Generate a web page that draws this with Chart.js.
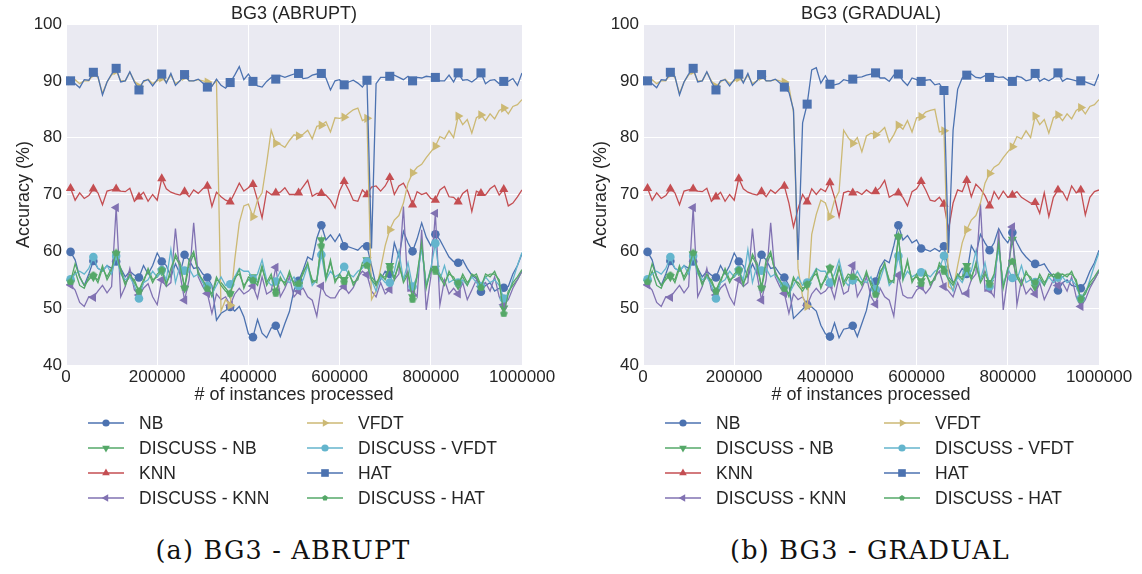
<!DOCTYPE html>
<html><head><meta charset="utf-8">
<script src="https://cdn.jsdelivr.net/npm/chart.js@4/dist/chart.umd.min.js"></script>
<style>
html,body{margin:0;padding:0;background:#fff;}
body{width:1142px;height:574px;position:relative;overflow:hidden;}
.box{position:absolute;top:0;width:565px;height:520px;}
.cap{position:absolute;top:535px;font-family:"DejaVu Serif",serif;font-size:25.5px;letter-spacing:1.2px;color:#111;white-space:nowrap;transform:translateX(-50%);}
</style></head><body>
<div class="box" style="left:0"><canvas id="c1" width="565" height="520"></canvas></div>
<div class="box" style="left:577px"><canvas id="c2" width="565" height="520"></canvas></div>
<div class="cap" style="left:283px">(a) BG3 - ABRUPT</div>
<div class="cap" style="left:870px">(b) BG3 - GRADUAL</div>
<script>
const instances = [10000,20000,30000,40000,50000,60000,70000,80000,90000,100000,
110000,120000,130000,140000,150000,160000,170000,180000,190000,200000,
210000,220000,230000,240000,250000,260000,270000,280000,290000,300000,
310000,320000,330000,340000,350000,360000,370000,380000,390000,400000,
410000,420000,430000,440000,450000,460000,470000,480000,490000,500000,
510000,520000,530000,540000,550000,560000,570000,580000,590000,600000,
610000,620000,630000,640000,650000,660000,670000,680000,690000,700000,
710000,720000,730000,740000,750000,760000,770000,780000,790000,800000,
810000,820000,830000,840000,850000,860000,870000,880000,890000,900000,
910000,920000,930000,940000,950000,960000,970000,980000,990000,1000000];
const xTicks = [0,200000,400000,600000,800000,1000000];
const yTicks = [40,50,60,70,80,90,100];
const seriesNames = ['NB','DISCUSS - NB','KNN','DISCUSS - KNN','VFDT','DISCUSS - VFDT','HAT','DISCUSS - HAT'];
const chartTitles = ['BG3 (ABRUPT)','BG3 (GRADUAL)'];

// ---------- ABRUPT ----------
const NB_A = [59.9,58.5,55.5,54.0,56.0,58.3,57.0,56.5,57.5,57.0,
58.2,57.0,55.5,56.5,55.8,55.4,57.5,56.0,57.5,59.7,
58.2,57.5,55.5,57.8,56.0,59.4,58.5,57.0,57.2,56.0,
55.4,54.0,47.9,49.1,49.6,50.2,49.5,50.3,48.5,45.5,
44.9,48.0,45.6,44.8,46.5,46.9,45.0,47.3,49.4,53.2,
54.8,56.7,59.0,58.5,62.3,64.6,62.0,62.9,61.7,63.0,
60.9,60.8,60.5,60.2,61.0,60.9,57.5,54.0,55.0,56.5,
56.0,61.5,59.0,63.5,61.5,60.0,62.2,65.0,62.5,61.0,
63.0,62.0,60.5,59.0,58.2,58.0,58.5,57.0,55.8,55.2,
52.9,54.0,54.5,53.0,53.5,53.6,53.8,56.0,57.5,59.6];
const DNB_A = [54.5,56.5,54.0,53.5,55.5,55.5,55.0,57.5,55.0,56.5,
59.5,57.0,54.5,55.5,55.0,52.8,54.5,57.0,55.0,55.5,
56.5,54.5,56.0,59.5,58.0,53.5,57.5,59.5,56.5,54.5,
53.8,52.0,55.0,54.5,53.5,52.5,55.5,56.0,54.0,55.0,
55.5,54.5,57.5,54.0,55.5,53.0,55.0,54.5,56.0,54.5,
54.0,56.5,57.5,55.0,54.5,62.0,55.5,58.0,55.0,55.5,
55.0,56.0,54.5,55.0,58.0,58.5,55.5,54.5,55.5,55.5,
57.5,55.5,57.5,55.0,56.5,52.0,55.5,61.0,54.0,56.5,
57.0,56.0,54.5,56.0,55.5,54.0,56.0,54.5,55.5,56.0,
54.0,55.5,56.0,56.0,55.0,50.0,53.0,54.0,55.0,56.5];
const KNN_A = [71.1,69.0,70.3,69.3,69.8,71.0,70.3,68.2,70.6,70.8,
71.0,70.6,70.5,71.1,68.8,69.6,70.4,68.8,70.0,69.0,
72.8,71.0,70.4,70.1,69.9,70.5,69.6,70.8,70.2,71.0,
71.5,67.9,70.4,69.6,69.0,68.7,70.3,72.0,70.6,71.2,
71.8,69.0,65.9,70.6,70.0,70.3,70.4,71.2,70.0,70.0,
70.3,71.4,72.5,69.7,70.2,70.2,69.9,69.0,67.6,70.6,
72.3,70.8,69.0,68.8,70.8,70.0,71.3,71.5,70.6,71.5,
73.0,70.0,71.5,72.0,70.5,68.2,70.5,70.0,70.3,69.3,
69.0,70.8,71.4,69.6,69.5,68.7,70.2,70.8,67.0,70.6,
70.2,69.9,71.0,71.6,69.9,70.9,68.0,68.5,69.6,70.8];
const DKNN_A = [54.1,53.2,51.0,50.3,52.0,51.9,53.0,54.0,52.7,53.8,
67.7,52.0,53.8,57.0,53.2,52.3,53.5,54.3,52.0,50.6,
55.0,53.8,54.5,64.0,56.0,51.4,55.0,65.0,55.5,53.8,
52.6,49.1,52.5,51.5,52.0,50.5,52.5,53.5,52.5,53.0,
53.9,51.7,55.5,52.5,53.0,57.2,52.0,53.5,55.5,52.0,
53.0,53.5,52.0,51.4,48.6,53.9,52.3,51.8,51.8,53.2,
53.8,52.6,53.6,55.5,56.5,55.9,53.0,52.0,54.5,52.5,
53.3,55.0,56.0,67.9,53.0,53.2,52.0,63.8,49.7,55.5,
66.7,50.6,55.0,52.5,53.5,52.5,54.5,51.5,53.2,55.0,
53.8,54.5,53.0,55.5,52.0,50.6,51.5,53.5,55.0,56.5];
const VFDT_A = [90.0,90.2,89.5,90.0,90.0,91.2,90.6,87.8,89.8,91.0,
91.8,90.0,90.0,91.5,90.0,89.0,89.8,90.3,89.5,90.0,
90.5,89.8,91.0,89.5,90.0,90.8,90.0,90.0,90.2,90.0,
89.8,89.2,90.0,49.5,51.5,50.5,58.5,65.0,68.0,68.3,
66.1,69.0,70.3,75.5,81.3,79.0,78.8,78.3,79.5,80.5,
80.3,80.6,81.3,79.8,82.0,82.2,82.8,81.0,83.5,83.4,
83.6,84.3,84.9,85.2,83.0,83.4,51.5,53.0,57.0,61.0,
63.8,65.5,66.3,68.5,72.0,73.8,74.8,75.3,76.5,77.5,
78.5,80.2,79.8,81.2,80.0,83.8,82.3,83.2,80.8,83.5,
84.0,83.0,84.2,83.3,84.8,85.2,84.2,85.5,85.8,86.7];
const DVFDT_A = [55.1,56.0,56.5,56.0,57.0,59.0,57.0,56.5,57.5,56.0,
59.2,56.0,55.0,55.5,54.0,51.7,54.5,55.0,56.5,55.5,
56.7,55.0,60.3,54.5,57.5,56.6,57.0,55.5,56.0,54.5,
53.9,52.5,54.0,55.5,54.0,54.2,55.5,57.0,56.5,56.5,
55.1,56.0,58.5,55.0,54.0,54.7,56.5,55.0,54.5,55.5,
53.9,55.0,57.5,54.0,55.0,59.4,55.0,56.5,55.5,56.0,
57.3,56.0,55.5,56.5,57.0,58.2,55.0,53.0,55.5,54.5,
54.5,56.5,60.0,55.0,58.0,53.8,55.5,60.5,54.0,57.0,
61.4,55.0,57.5,54.5,55.0,54.5,55.0,54.0,55.5,54.5,
53.9,55.5,54.5,55.0,54.0,51.7,52.5,55.0,57.5,59.8];
const HAT_A = [90.0,89.5,88.8,90.2,90.1,91.5,90.8,87.5,89.8,91.2,
92.2,89.8,90.0,91.6,89.8,88.4,90.0,90.2,89.1,90.2,
91.2,89.6,91.3,89.2,90.0,91.1,90.0,90.0,90.3,89.6,
88.9,89.0,90.3,89.2,88.7,89.7,91.0,92.5,90.2,91.2,
89.9,89.1,88.9,89.9,90.6,90.3,90.9,90.6,90.9,91.2,
91.3,90.4,90.5,91.0,91.2,91.3,90.5,88.4,90.0,90.2,
89.3,89.8,90.1,89.6,88.9,90.1,60.5,89.5,90.6,90.6,
90.8,91.0,90.6,90.2,90.8,90.0,90.6,90.5,90.8,90.7,
90.6,90.0,90.0,91.0,89.8,91.4,90.1,90.2,89.8,90.4,
91.4,89.5,90.1,90.2,89.5,89.9,89.9,90.4,89.2,91.4];
const DHAT_A = [54.7,57.8,55.5,54.0,55.0,55.9,54.5,57.0,55.5,57.0,
59.8,56.5,54.0,56.0,54.5,53.1,55.0,56.5,54.5,56.0,
56.8,54.0,57.0,59.0,57.5,53.7,58.5,60.0,56.0,55.0,
53.5,52.5,55.5,54.0,53.0,52.7,55.0,56.8,53.5,55.5,
55.0,54.0,57.0,54.5,56.0,52.7,55.5,54.0,56.5,54.0,
54.4,56.0,58.0,54.5,55.0,61.1,55.0,58.5,54.5,56.0,
54.7,56.5,54.0,55.5,57.5,57.6,55.0,54.0,56.0,55.0,
57.2,55.0,58.0,54.5,56.0,51.6,56.0,61.5,53.5,57.0,
56.6,55.5,54.0,56.5,55.0,54.5,55.5,54.0,56.0,55.5,
53.7,56.0,55.5,56.5,54.5,49.1,52.5,54.5,55.5,56.8];

// ---------- GRADUAL ----------
const NB_G = [59.9,58.5,55.5,54.0,56.0,58.3,57.0,56.5,57.5,57.0,
58.2,57.0,55.5,56.5,55.8,55.4,57.5,56.0,57.5,59.7,
58.2,57.5,55.5,57.8,56.0,59.4,58.5,57.0,57.2,56.0,
55.4,54.0,48.2,49.0,49.8,50.6,50.2,49.5,47.0,45.5,
45.0,47.4,44.8,46.3,46.5,46.9,45.0,47.3,49.6,53.5,
54.7,57.2,58.5,58.0,61.0,64.6,62.0,62.8,61.5,62.0,
60.5,60.3,60.0,60.5,60.0,60.9,57.0,54.5,55.5,57.0,
56.0,61.0,59.5,63.0,61.5,60.2,61.5,64.0,62.5,61.5,
63.3,61.5,60.0,59.0,58.2,57.8,57.5,57.8,56.5,55.5,
53.1,54.5,55.0,54.0,53.8,53.5,54.5,56.5,58.0,60.2];
const DNB_G = [54.5,56.5,54.0,53.5,55.5,55.5,55.0,57.5,55.0,56.5,
59.5,57.0,54.5,55.5,55.0,52.8,54.5,57.0,55.0,55.5,
56.5,54.5,56.0,59.5,58.0,53.5,57.5,59.5,56.5,54.5,
53.8,52.0,55.0,54.5,53.5,54.0,55.5,56.0,54.0,55.0,
57.0,54.5,57.5,54.0,55.5,55.0,55.0,54.5,56.0,54.5,
52.8,56.5,57.5,55.0,54.5,62.5,55.5,58.0,55.0,55.5,
54.8,56.0,54.5,55.0,58.0,57.0,55.5,54.5,55.5,55.5,
57.5,55.5,57.5,55.0,56.5,54.5,55.5,61.0,54.0,56.5,
62.1,56.0,54.5,56.0,55.5,53.7,56.0,54.5,55.5,56.0,
55.5,55.5,56.0,56.0,55.0,51.5,53.0,54.0,55.0,56.5];
const KNN_G = [71.1,69.0,70.3,69.3,69.8,71.0,70.3,68.2,70.6,70.8,
71.0,70.6,70.5,71.1,68.8,69.6,70.4,68.8,70.0,69.0,
72.8,71.0,70.4,70.1,69.9,70.5,69.6,70.8,70.2,71.0,
71.5,68.5,64.3,67.5,70.0,68.7,71.0,70.0,71.0,70.5,
72.1,69.5,66.1,70.3,70.6,70.3,70.5,70.0,70.8,70.2,
70.5,71.2,72.5,69.5,70.0,70.3,69.5,68.0,70.5,71.0,
72.3,70.8,69.0,68.8,69.5,68.3,63.8,68.5,70.8,70.5,
72.5,69.6,71.8,71.0,69.8,68.0,70.5,69.2,70.6,69.5,
69.9,70.5,69.5,69.0,68.5,68.6,66.7,70.3,66.1,69.5,
70.8,70.5,69.0,71.5,70.3,70.8,66.4,69.5,70.5,70.8];
const DKNN_G = [54.1,53.2,51.0,50.3,52.0,51.9,53.0,54.0,52.7,53.8,
67.7,52.0,53.8,57.0,53.2,52.3,53.5,54.3,52.0,50.6,
55.0,53.8,54.5,64.0,56.0,51.4,55.0,65.0,55.5,53.8,
52.6,49.1,52.5,51.5,52.0,50.5,52.5,53.5,52.5,53.0,
54.1,51.7,55.5,52.5,53.0,57.5,52.0,53.5,55.5,52.0,
50.7,53.5,52.0,51.4,48.6,55.8,52.3,51.8,51.8,53.2,
53.8,52.6,53.6,55.5,56.5,53.8,53.0,52.0,54.5,52.5,
52.6,55.0,56.0,68.4,53.0,53.2,52.0,63.8,49.7,55.5,
64.3,50.6,55.0,52.5,53.5,52.5,54.5,51.5,53.2,55.0,
54.0,54.5,53.0,55.5,52.0,50.3,51.5,53.5,55.0,56.5];
const VFDT_G = [90.0,90.2,89.5,90.0,90.0,91.2,90.6,87.8,89.8,91.0,
91.8,90.0,90.0,91.5,90.0,89.0,89.8,90.3,89.5,90.0,
90.5,89.8,91.0,89.5,90.0,90.8,90.0,90.0,90.2,90.0,
89.8,89.0,84.5,57.0,52.0,50.3,63.0,66.5,69.0,68.5,
66.1,69.0,70.5,81.3,80.0,79.0,80.0,77.5,80.3,80.8,
80.5,81.0,81.8,79.2,80.5,82.2,81.5,83.0,81.0,83.5,
83.7,84.5,84.8,85.0,81.0,81.2,53.8,53.2,57.5,61.5,
63.8,65.5,66.3,68.5,72.0,73.7,74.8,75.3,76.5,77.5,
78.4,80.2,79.8,81.2,80.0,83.8,82.3,83.2,80.8,83.5,
84.0,83.0,84.2,83.3,84.8,85.3,84.2,85.5,85.8,86.7];
const DVFDT_G = [55.1,56.0,56.5,56.0,57.0,59.0,57.0,56.5,57.5,56.0,
59.2,56.0,55.0,55.5,54.0,51.7,54.5,55.0,56.5,55.5,
56.7,55.0,60.3,54.5,57.5,56.6,57.0,55.5,56.0,54.5,
53.9,52.5,54.0,55.5,54.0,54.5,55.5,57.0,56.5,56.5,
54.5,56.0,58.5,55.0,54.0,54.9,56.5,55.0,54.5,55.5,
53.3,55.0,57.5,54.0,55.0,59.2,55.0,56.5,55.5,56.0,
56.3,56.0,55.5,56.5,57.0,59.2,55.0,53.0,55.5,54.5,
56.4,56.5,60.0,55.0,58.0,53.8,55.5,60.5,54.0,57.0,
55.3,55.0,57.5,54.5,55.0,54.6,55.0,54.0,55.5,54.5,
55.4,55.5,54.5,55.0,54.0,51.7,52.5,55.0,57.5,59.8];
const HAT_G = [90.0,89.5,88.8,90.2,90.1,91.5,90.8,87.5,89.8,91.2,
92.2,89.8,90.0,91.6,89.8,88.4,90.0,90.2,89.1,90.2,
91.2,89.6,91.3,89.2,90.0,91.1,90.0,90.0,90.3,89.6,
88.9,88.0,84.9,58.5,82.6,85.9,91.9,92.3,89.6,90.9,
89.4,89.3,89.5,90.2,90.0,90.3,90.6,90.7,91.0,91.2,
91.4,90.5,90.5,89.9,91.0,91.2,90.0,89.2,90.5,90.2,
89.9,90.1,90.2,89.3,89.5,88.3,59.7,81.3,88.5,90.5,
91.0,91.2,90.6,90.5,90.9,90.6,90.8,90.6,90.7,90.1,
89.9,90.8,90.6,90.0,90.2,91.3,89.9,90.4,90.0,90.5,
91.4,89.9,90.4,90.2,90.0,90.0,89.8,89.5,89.2,91.2];
const DHAT_G = [54.7,57.8,55.5,54.0,55.0,55.9,54.5,57.0,55.5,57.0,
59.8,56.5,54.0,56.0,54.5,53.1,55.0,56.5,54.5,56.0,
56.8,54.0,57.0,59.0,57.5,53.7,58.5,60.0,56.0,55.0,
53.5,52.5,55.5,54.0,53.0,54.3,55.0,56.8,53.5,55.5,
57.2,54.0,57.0,54.5,56.0,55.6,55.5,54.0,56.5,54.0,
52.5,56.0,58.0,54.5,55.0,62.7,55.0,58.5,54.5,56.0,
54.4,56.5,54.0,55.5,57.5,56.6,55.0,54.0,56.0,55.0,
57.0,55.0,58.0,54.5,56.0,54.3,56.0,61.5,53.5,57.0,
58.3,55.5,54.0,56.5,55.0,54.6,55.5,54.0,56.0,55.5,
55.8,56.0,55.5,56.5,54.5,51.7,52.5,54.5,55.5,56.8];

const FONT = '"Liberation Sans", Arial, sans-serif';
const TXT = '#262626';

function makePentagon(d, color){
  const c = document.createElement('canvas'); c.width = d; c.height = d;
  const g = c.getContext('2d'); g.fillStyle = color; g.beginPath();
  for (let k = 0; k < 5; k++) {
    const a = -Math.PI/2 + k*2*Math.PI/5;
    const px = d/2 + Math.cos(a)*d/2, py = d/2 + 0.5 + Math.sin(a)*d/2;
    if (k) g.lineTo(px, py); else g.moveTo(px, py);
  }
  g.closePath(); g.fill(); return c;
}

const STY = [
  {color:'#4C72B0', shape:'circle',   r:4.3, lr:3.6, rot:0},
  {color:'#55A868', shape:'triangle', r:5.3, lr:4.4, rot:180},
  {color:'#C44E52', shape:'triangle', r:5.3, lr:4.4, rot:0},
  {color:'#8172B2', shape:'triangle', r:5.3, lr:4.4, rot:270},
  {color:'#CCB974', shape:'triangle', r:5.3, lr:4.4, rot:90},
  {color:'#64B5CD', shape:'circle',   r:4.3, lr:3.6, rot:0},
  {color:'#4C72B0', shape:'rect',     r:6.4, lr:5.4, rot:0},
  {color:'#55A868', shape:'pent',     r:4.0, lr:3.0, rot:0}
];
const pentImg = makePentagon(8, '#55A868');

function drawMarker(ctx, st, x, y, r){
  ctx.save(); ctx.fillStyle = st.color; ctx.beginPath();
  if (st.shape === 'circle' || st.shape === 'pent') {
    if (st.shape === 'circle') ctx.arc(x, y, r, 0, Math.PI*2);
    else { for (let k=0;k<5;k++){const a=-Math.PI/2+k*2*Math.PI/5; const px=x+Math.cos(a)*r, py=y+Math.sin(a)*r; k?ctx.lineTo(px,py):ctx.moveTo(px,py);} }
  } else if (st.shape === 'rect') {
    const s = r*Math.SQRT1_2; ctx.rect(x-s, y-s, 2*s, 2*s);
  } else {
    let rad = st.rot*Math.PI/180;
    for (let k=0;k<3;k++){ const px=x+Math.sin(rad)*r, py=y-Math.cos(rad)*r; k?ctx.lineTo(px,py):ctx.moveTo(px,py); rad += 2*Math.PI/3; }
  }
  ctx.closePath(); ctx.fill(); ctx.restore();
}

const bgPlugin = {id:'bgArea', beforeDraw(chart){
  const {ctx, chartArea:a} = chart; ctx.save(); ctx.fillStyle = '#EAEAF2';
  ctx.fillRect(a.left, a.top, a.right-a.left, a.bottom-a.top); ctx.restore();
}};
const legendPlugin = {id:'twoColLegend', afterDraw(chart){
  const ctx = chart.ctx; const L = chart.chartArea.left;
  seriesNames.forEach((name, i) => {
    const st = STY[i]; const col = Math.floor(i/4), row = i % 4;
    const x1 = L + 22 + col*219, x2 = x1 + 36, tx = L + 73 + col*219, y = 423 + row*25;
    ctx.save(); ctx.strokeStyle = st.color; ctx.lineWidth = 1.3;
    ctx.beginPath(); ctx.moveTo(x1, y); ctx.lineTo(x2, y); ctx.stroke(); ctx.restore();
    drawMarker(ctx, st, (x1+x2)/2, y, st.lr);
    ctx.save(); ctx.fillStyle = TXT; ctx.font = '17.5px ' + FONT; ctx.textBaseline = 'middle'; ctx.textAlign = 'left';
    ctx.fillText(name, tx, y + 1); ctx.restore();
  });
}};

function build(id, title, series){
  const datasets = series.map((arr, i) => {
    const st = STY[i];
    return {
      label: seriesNames[i],
      data: arr.map((v, k) => ({x: instances[k], y: v})),
      borderColor: st.color, backgroundColor: st.color, borderWidth: 1.3, tension: 0,
      pointStyle: st.shape === 'pent' ? pentImg : st.shape, pointRotation: st.rot,
      pointRadius: c => (c.dataIndex % 5 === 0 ? st.r : 0), pointHoverRadius: 0,
      pointBackgroundColor: st.color, pointBorderColor: st.color, pointBorderWidth: 0,
      order: 7 - i
    };
  });
  new Chart(document.getElementById(id), {
    type: 'line', data: {datasets}, plugins: [bgPlugin, legendPlugin],
    options: {
      responsive: false, animation: false, events: [], devicePixelRatio: 1,
      layout: {padding: {left: 0, right: 43, top: 0, bottom: 114}},
      plugins: {
        legend: {display: false}, tooltip: {enabled: false},
        title: {display: true, text: title, fullSize: false, color: TXT,
          font: {family: FONT, size: 18, weight: 'normal', lineHeight: 1}, padding: {top: 5, bottom: 1}}
      },
      scales: {
        x: {type: 'linear', min: 0, max: 1000000,
          afterBuildTicks: s => { s.ticks = xTicks.map(v => ({value: v})); },
          afterFit: s => { s.height = 41; },
          grid: {color: '#ffffff', lineWidth: 1, drawTicks: false}, border: {display: false},
          ticks: {color: TXT, font: {family: FONT, size: 17}, padding: 2, maxRotation: 0, autoSkip: false, callback: v => String(v)},
          title: {display: true, text: '# of instances processed', color: TXT, font: {family: FONT, size: 18}, padding: {top: 0, bottom: 0}}},
        y: {min: 40, max: 100,
          afterBuildTicks: s => { s.ticks = yTicks.map(v => ({value: v})); },
          afterFit: s => { s.width = 66; },
          grid: {color: '#ffffff', lineWidth: 1, drawTicks: false}, border: {display: false},
          ticks: {color: TXT, font: {family: FONT, size: 17}, padding: 4, callback: v => String(v)},
          title: {display: true, text: 'Accuracy (%)', color: TXT, font: {family: FONT, size: 18}, padding: {top: 13, bottom: 0}}}
      }
    }
  });
}

build('c1', chartTitles[0], [NB_A, DNB_A, KNN_A, DKNN_A, VFDT_A, DVFDT_A, HAT_A, DHAT_A]);
build('c2', chartTitles[1], [NB_G, DNB_G, KNN_G, DKNN_G, VFDT_G, DVFDT_G, HAT_G, DHAT_G]);
</script>
</body></html>
